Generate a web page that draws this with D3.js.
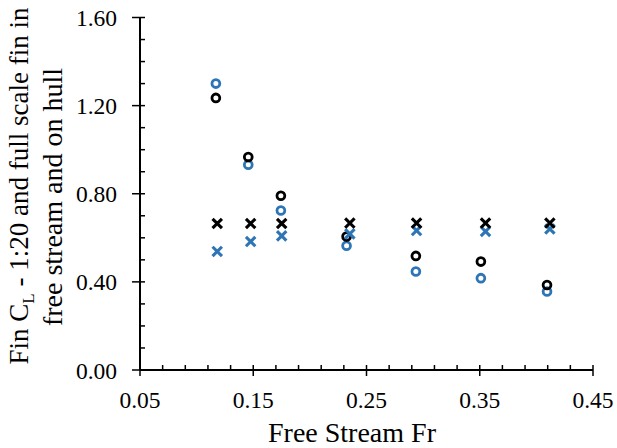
<!DOCTYPE html>
<html>
<head>
<meta charset="utf-8">
<script src="https://cdn.jsdelivr.net/npm/d3@7"></script>
<style>
  body { margin: 0; background: #fff; }
  text { font-family: "Liberation Serif", "Times New Roman", serif; fill: #000; }
</style>
</head>
<body>
<div id="chart-area"></div>
<script>
// data
var frCircle = [0.117, 0.1456, 0.1744, 0.2324, 0.2936, 0.351, 0.4094];
var frCross  = [0.1182, 0.1477, 0.1751, 0.2353, 0.2942, 0.3551, 0.4119];
var clModelCircle = [1.300, 0.932, 0.724, 0.564, 0.447, 0.417, 0.356];   // blue o
var clFullCircle  = [1.235, 0.967, 0.791, 0.606, 0.518, 0.492, 0.386];   // black o
var clFullCross   = [0.665, 0.665, 0.665, 0.667, 0.667, 0.667, 0.667];   // black x
var clModelCross  = [0.538, 0.583, 0.609, 0.618, 0.633, 0.629, 0.640];   // blue x

var xTicks = [0.05, 0.15, 0.25, 0.35, 0.45];
var yTicks = [0.00, 0.40, 0.80, 1.20, 1.60];

var width = 617, height = 448;
var blue = "#2e75b6";

var svg = d3.select("#chart-area").append("svg")
	.attr("width", width)
	.attr("height", height);

var x = d3.scaleLinear().domain([0.05, 0.45]).range([140, 593]);
var y = d3.scaleLinear().domain([0, 1.6]).range([370, 17.5]);

// minor ticks
var xMinor = d3.range(0.07, 0.45, 0.02).filter(function(d) {
	return xTicks.every(function(t) { return Math.abs(t - d) > 1e-6; });
});
var yMinor = d3.range(0.1, 1.6, 0.1).filter(function(d) {
	return yTicks.every(function(t) { return Math.abs(t - d) > 1e-6; });
});

var xAxis = svg.append("g").attr("transform", "translate(0,370)");
xAxis.append("line").attr("x1", x(0.05)).attr("x2", x(0.45))
	.attr("stroke", "#000").attr("stroke-width", 2);
xAxis.selectAll(".minor").data(xMinor).enter().append("line")
	.attr("x1", x).attr("x2", x).attr("y1", 0).attr("y2", -5)
	.attr("stroke", "#000").attr("stroke-width", 1.5);
xAxis.selectAll(".major").data(xTicks).enter().append("line")
	.attr("x1", x).attr("x2", x).attr("y1", -5).attr("y2", 6)
	.attr("stroke", "#000").attr("stroke-width", 1.5);
xAxis.selectAll(".lbl").data(xTicks).enter().append("text")
	.attr("x", x).attr("y", 37.5)
	.attr("text-anchor", "middle").attr("font-size", "23.5px")
	.text(function(d) { return d.toFixed(2); });

var yAxis = svg.append("g").attr("transform", "translate(140,0)");
yAxis.append("line").attr("y1", y(0)).attr("y2", y(1.6))
	.attr("stroke", "#000").attr("stroke-width", 2);
yAxis.selectAll(".minor").data(yMinor).enter().append("line")
	.attr("y1", y).attr("y2", y).attr("x1", 0).attr("x2", 5)
	.attr("stroke", "#000").attr("stroke-width", 1.5);
yAxis.selectAll(".major").data(yTicks).enter().append("line")
	.attr("y1", y).attr("y2", y).attr("x1", -8).attr("x2", 5)
	.attr("stroke", "#000").attr("stroke-width", 1.5);
yAxis.selectAll(".lbl").data(yTicks).enter().append("text")
	.attr("x", -23).attr("y", function(d) { return y(d) + 8.5; })
	.attr("text-anchor", "end").attr("font-size", "23.5px")
	.text(function(d) { return d.toFixed(2); });

// axis titles
svg.append("text")
	.attr("x", 352).attr("y", 442)
	.attr("text-anchor", "middle").attr("font-size", "28px")
	.text("Free Stream Fr");

var yt = svg.append("text")
	.attr("transform", "translate(28,186) rotate(-90)")
	.attr("text-anchor", "middle").attr("font-size", "27px");
yt.append("tspan").text("Fin C");
yt.append("tspan").attr("dy", 6).attr("font-size", "17px").text("L");
yt.append("tspan").attr("dy", -6).text(" - 1:20 and full scale fin in");
svg.append("text")
	.attr("transform", "translate(61.5,197) rotate(-90)")
	.attr("text-anchor", "middle").attr("font-size", "28px")
	.text("free stream and on hull");

// markers
function circles(xs, ys, color) {
	svg.append("g").selectAll("circle").data(d3.zip(xs, ys)).enter().append("circle")
		.attr("cx", function(d) { return x(d[0]); })
		.attr("cy", function(d) { return y(d[1]); })
		.attr("r", 3.9)
		.attr("fill", "none").attr("stroke", color).attr("stroke-width", 2.8);
}
function crosses(xs, ys, color) {
	var s = 4.7;
	svg.append("g").selectAll("path").data(d3.zip(xs, ys)).enter().append("path")
		.attr("d", function(d) {
			var cx = x(d[0]), cy = y(d[1]);
			return "M" + (cx - s) + "," + (cy - s) + "L" + (cx + s) + "," + (cy + s) +
				"M" + (cx - s) + "," + (cy + s) + "L" + (cx + s) + "," + (cy - s);
		})
		.attr("fill", "none").attr("stroke", color).attr("stroke-width", 3.1);
}

circles(frCircle, clModelCircle, blue);
circles(frCircle, clFullCircle, "#000");
crosses(frCross, clModelCross, blue);
crosses(frCross, clFullCross, "#000");
</script>
</body>
</html>
